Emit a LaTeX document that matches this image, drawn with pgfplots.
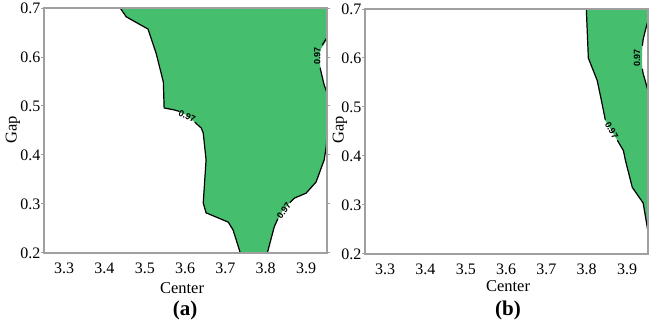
\documentclass[border=0pt]{standalone}
\usepackage{fontspec}
\setmainfont{Liberation Serif}
\setsansfont{Liberation Sans}
\usepackage{pgfplots}
\pgfplotsset{compat=1.18}
\definecolor{cgreen}{RGB}{69,190,110}
\definecolor{cspine}{RGB}{160,160,160}
\tikzset{
  ctr/.style={black, line width=1.2pt},
  lab/.style={font=\sffamily\bfseries\fontsize{9}{9}\selectfont, inner sep=0pt},
}
\pgfplotsset{
  myax/.style={
    scale only axis, width=283pt, height=245pt,
    xmin=3.25, xmax=3.952, ymin=0.2, ymax=0.7,
    xtick={3.3,3.4,3.5,3.6,3.7,3.8,3.9},
    xticklabels={3.3,3.4,3.5,3.6,3.7,3.8,3.9},
    ytick={0.2,0.3,0.4,0.5,0.6,0.7},
    yticklabels={0.2,0.3,0.4,0.5,0.6,0.7},
    axis line style={cspine, line width=1.5pt},
    tick style={cspine, line width=1pt},
    x tick style={draw=none},
    tick align=outside, major tick length=3pt,
    ticklabel style={font=\fontsize{16}{16}\selectfont, text=black},
    xticklabel style={yshift=-3pt},
    yticklabel style={xshift=3pt},
    /pgf/number format/assume math mode=true,
    axis on top,
  },
}
\begin{document}
\begin{tikzpicture}
\useasboundingbox (0,0) rectangle (649pt,324pt);
% ---------- (a) ----------
\begin{axis}[myax, at={(44pt,71pt)}, anchor=south west]
\addplot[fill=cgreen, draw=none] coordinates {
(3.439,0.7) (3.952,0.7) (3.952,0.635) (3.938,0.618) (3.933,0.604) (3.935,0.584)
(3.938,0.567) (3.945,0.543) (3.952,0.527) (3.952,0.441) (3.950,0.416) (3.945,0.390)
(3.925,0.345) (3.900,0.322) (3.871,0.312) (3.843,0.288) (3.821,0.253) (3.804,0.2)
(3.737,0.2) (3.719,0.247) (3.707,0.263) (3.652,0.282) (3.645,0.302) (3.652,0.390)
(3.645,0.445) (3.640,0.455) (3.603,0.482) (3.573,0.492) (3.548,0.496) (3.546,0.549)
(3.528,0.608) (3.508,0.657) (3.454,0.682) (3.439,0.7)} --cycle;
\addplot[ctr] coordinates {(3.439,0.7) (3.454,0.682) (3.508,0.657) (3.528,0.608)
(3.546,0.549) (3.548,0.496) (3.573,0.492) (3.586,0.489)};
\addplot[ctr] coordinates {(3.624,0.467) (3.640,0.455) (3.645,0.445) (3.652,0.390)
(3.645,0.302) (3.652,0.282) (3.707,0.263) (3.719,0.247) (3.737,0.2)};
\addplot[ctr] coordinates {(3.804,0.2) (3.821,0.253) (3.830,0.270)};
\addplot[ctr] coordinates {(3.860,0.303) (3.871,0.312) (3.900,0.322) (3.925,0.345)
(3.945,0.390) (3.950,0.416) (3.952,0.441)};
\addplot[ctr] coordinates {(3.952,0.640) (3.940,0.624)};
\addplot[ctr] coordinates {(3.935,0.578) (3.938,0.567) (3.945,0.543) (3.952,0.527)};
\node[lab, rotate=-25] at (axis cs:3.605,0.479) {0.97};
\node[lab, rotate=55] at (axis cs:3.845,0.287) {0.97};
\node[lab, rotate=90] at (axis cs:3.928,0.602) {0.97};
\end{axis}
% ---------- (b) ----------
\begin{axis}[myax, at={(365pt,70pt)}, anchor=south west]
\addplot[fill=cgreen, draw=none] coordinates {
(3.799,0.7) (3.952,0.7) (3.952,0.676) (3.945,0.655) (3.940,0.638) (3.938,0.625)
(3.937,0.600) (3.938,0.578) (3.940,0.568) (3.945,0.554) (3.952,0.533) (3.952,0.245)
(3.948,0.265) (3.940,0.304) (3.913,0.336) (3.896,0.391) (3.891,0.411) (3.876,0.432)
(3.846,0.472) (3.838,0.507) (3.826,0.554) (3.804,0.600) (3.799,0.7)} --cycle;
\addplot[ctr] coordinates {(3.799,0.7) (3.804,0.600) (3.826,0.554) (3.838,0.507) (3.846,0.474)};
\addplot[ctr] coordinates {(3.876,0.432) (3.891,0.411) (3.896,0.391) (3.913,0.336)
(3.940,0.304) (3.948,0.265) (3.952,0.245)};
\addplot[ctr] coordinates {(3.952,0.676) (3.945,0.655) (3.940,0.638) (3.938,0.625)};
\addplot[ctr] coordinates {(3.938,0.578) (3.940,0.568) (3.945,0.554) (3.952,0.533)};
\node[lab, rotate=-60] at (axis cs:3.862,0.452) {0.97};
\node[lab, rotate=90] at (axis cs:3.925,0.600) {0.97};
\end{axis}
% ---------- labels ----------
\node[font=\fontsize{16.5}{16.5}\selectfont] at (182pt,36pt) {Center};
\node[font=\bfseries\fontsize{21}{21}\selectfont] at (185pt,14pt) {(a)};
\node[font=\fontsize{16.5}{16.5}\selectfont, rotate=90] at (13pt,194pt) {Gap};
\node[font=\fontsize{16.5}{16.5}\selectfont] at (508pt,38pt) {Center};
\node[font=\bfseries\fontsize{21}{21}\selectfont] at (508pt,14pt) {(b)};
\node[font=\fontsize{16.5}{16.5}\selectfont, rotate=90] at (340pt,194pt) {Gap};
\end{tikzpicture}
\end{document}
